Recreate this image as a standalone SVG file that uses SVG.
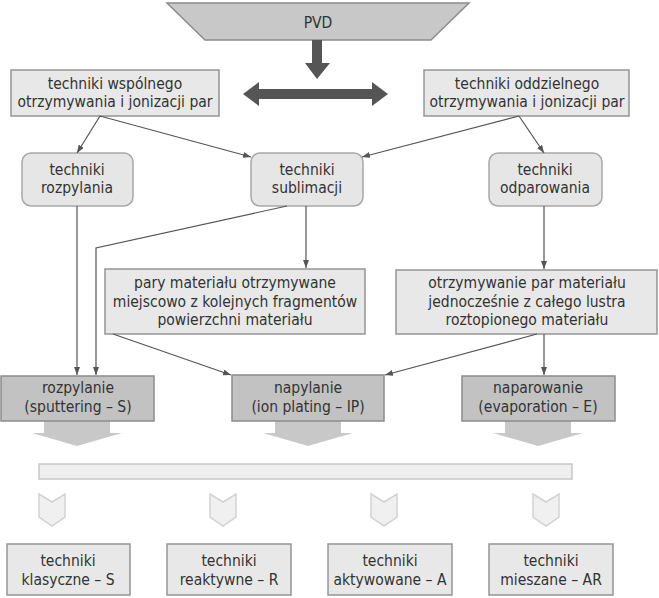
<svg xmlns="http://www.w3.org/2000/svg" width="659" height="598" viewBox="0 0 659 598">
<defs>
<marker id="ah" markerWidth="8" markerHeight="6" refX="8" refY="3" orient="auto" markerUnits="userSpaceOnUse">
<path d="M0,0 L8,3 L0,6 Z" fill="#555"/>
</marker>
<style>
text{font-family:"DejaVu Sans Condensed","DejaVu Sans",sans-serif;font-stretch:condensed;font-size:15.5px;fill:#333;text-anchor:middle}
.lbox{fill:#e8e8e8;stroke:#959595;stroke-width:1.5}
.rbox{fill:#e6e6e6;stroke:#a8a8a8;stroke-width:1.5}
.gbox{fill:#c2c2c2;stroke:#8c8c8c;stroke-width:1.5}
.garrow{fill:#c8c8c8}
.chev{fill:#f0f0f0;stroke:#d2d2d2;stroke-width:1.5}
.conn{fill:none;stroke:#555;stroke-width:1.2;marker-end:url(#ah)}
.big{fill:#555}
</style>
</defs>
<rect width="659" height="598" fill="#fff"/>

<g id="pvd">
<polygon points="167,3 469,3 431,40 205,40" fill="#c8c8c8" stroke="#8c8c8c" stroke-width="1.5"/>
<text x="318" y="28">PVD</text>
</g>
<g id="big-arrows">
<polygon class="big" points="312,40 322,40 322,63 330,63 317,79 305,63 312,63"/>
<polygon class="big" points="243,94 259,82 259,89 372,89 372,82 388,94 372,106 372,99 259,99 259,106"/>
</g>

<g id="n-wspolne">
<rect class="lbox" x="11" y="70" width="208" height="46"/>
<text x="115" y="89">techniki wspólnego</text>
<text x="115" y="107">otrzymywania i jonizacji par</text>
</g>
<g id="n-oddzielne">
<rect class="lbox" x="424" y="70" width="205" height="46"/>
<text x="527" y="89">techniki oddzielnego</text>
<text x="527" y="107">otrzymywania i jonizacji par</text>
</g>

<g id="n-rozpylania">
<rect class="rbox" x="22" y="153" width="111" height="53" rx="9"/>
<text x="77" y="175">techniki</text>
<text x="77" y="193">rozpylania</text>
</g>
<g id="n-sublimacji">
<rect class="rbox" x="251" y="153" width="112" height="53" rx="9"/>
<text x="307" y="175">techniki</text>
<text x="307" y="193">sublimacji</text>
</g>
<g id="n-odparowania">
<rect class="rbox" x="489" y="153" width="113" height="53" rx="9"/>
<text x="545" y="175">techniki</text>
<text x="545" y="193">odparowania</text>
</g>

<g id="n-pary">
<rect class="lbox" x="105" y="269" width="260" height="65"/>
<text x="235" y="288">pary materiału otrzymywane</text>
<text x="235" y="307">miejscowo z kolejnych fragmentów</text>
<text x="235" y="325">powierzchni materiału</text>
</g>
<g id="n-otrzymywanie">
<rect class="lbox" x="396" y="270" width="261" height="64"/>
<text x="527" y="288">otrzymywanie par materiału</text>
<text x="527" y="307">jednocześnie z całego lustra</text>
<text x="527" y="325">roztopionego materiału</text>
</g>

<g id="n-rozpylanie">
<polygon class="garrow" points="44,421 110,421 110,433 122,433 77,446 32,433 44,433"/>
<rect class="gbox" x="1" y="376" width="153" height="45"/>
<text x="78" y="393">rozpylanie</text>
<text x="78" y="412">(sputtering – S)</text>
</g>
<g id="n-napylanie">
<polygon class="garrow" points="275,421 341,421 341,433 353,433 308,446 263,433 275,433"/>
<rect class="gbox" x="232" y="375" width="152" height="46"/>
<text x="308" y="393">napylanie</text>
<text x="308" y="412">(ion plating – IP)</text>
</g>
<g id="n-naparowanie">
<polygon class="garrow" points="505,421 571,421 571,433 583,433 538,446 493,433 505,433"/>
<rect class="gbox" x="462" y="376" width="153" height="45"/>
<text x="538" y="393">naparowanie</text>
<text x="538" y="412">(evaporation – E)</text>
</g>

<g id="bar">
<rect x="39" y="464" width="533" height="15" fill="#efefef" stroke="#c8c8c8" stroke-width="1.5"/>
</g>
<g id="chevrons">
<polygon class="chev" points="39,494 52,502 65,494 65,517 52,526 39,517"/>
<polygon class="chev" points="210,494 223,502 236,494 236,517 223,526 210,517"/>
<polygon class="chev" points="371,494 384,502 397,494 397,517 384,526 371,517"/>
<polygon class="chev" points="533,494 546,502 559,494 559,517 546,526 533,517"/>
</g>

<g id="n-klasyczne">
<rect class="lbox" x="7" y="544" width="123" height="51"/>
<text x="68" y="566">techniki</text>
<text x="68" y="585">klasyczne – S</text>
</g>
<g id="n-reaktywne">
<rect class="lbox" x="167" y="544" width="124" height="51"/>
<text x="229" y="566">techniki</text>
<text x="229" y="585">reaktywne – R</text>
</g>
<g id="n-aktywowane">
<rect class="lbox" x="328" y="544" width="124" height="51"/>
<text x="390" y="566">techniki</text>
<text x="390" y="585">aktywowane – A</text>
</g>
<g id="n-mieszane">
<rect class="lbox" x="489" y="544" width="124" height="51"/>
<text x="551" y="566">techniki</text>
<text x="551" y="585">mieszane – AR</text>
</g>

<g id="connectors">
<path class="conn" d="M100,116 L77,153"/>
<path class="conn" d="M100,116 L251,157"/>
<path class="conn" d="M519,116 L362,157"/>
<path class="conn" d="M519,116 L544,153"/>
<path class="conn" d="M77,206 L77,375"/>
<path class="conn" d="M287,206 L96,248 L96,375"/>
<path class="conn" d="M306,206 L306,268"/>
<path class="conn" d="M544,206 L544,269"/>
<path class="conn" d="M113,334 L231,375"/>
<path class="conn" d="M537,334 L385,375"/>
<path class="conn" d="M544,334 L544,375"/>
</g>
</svg>
